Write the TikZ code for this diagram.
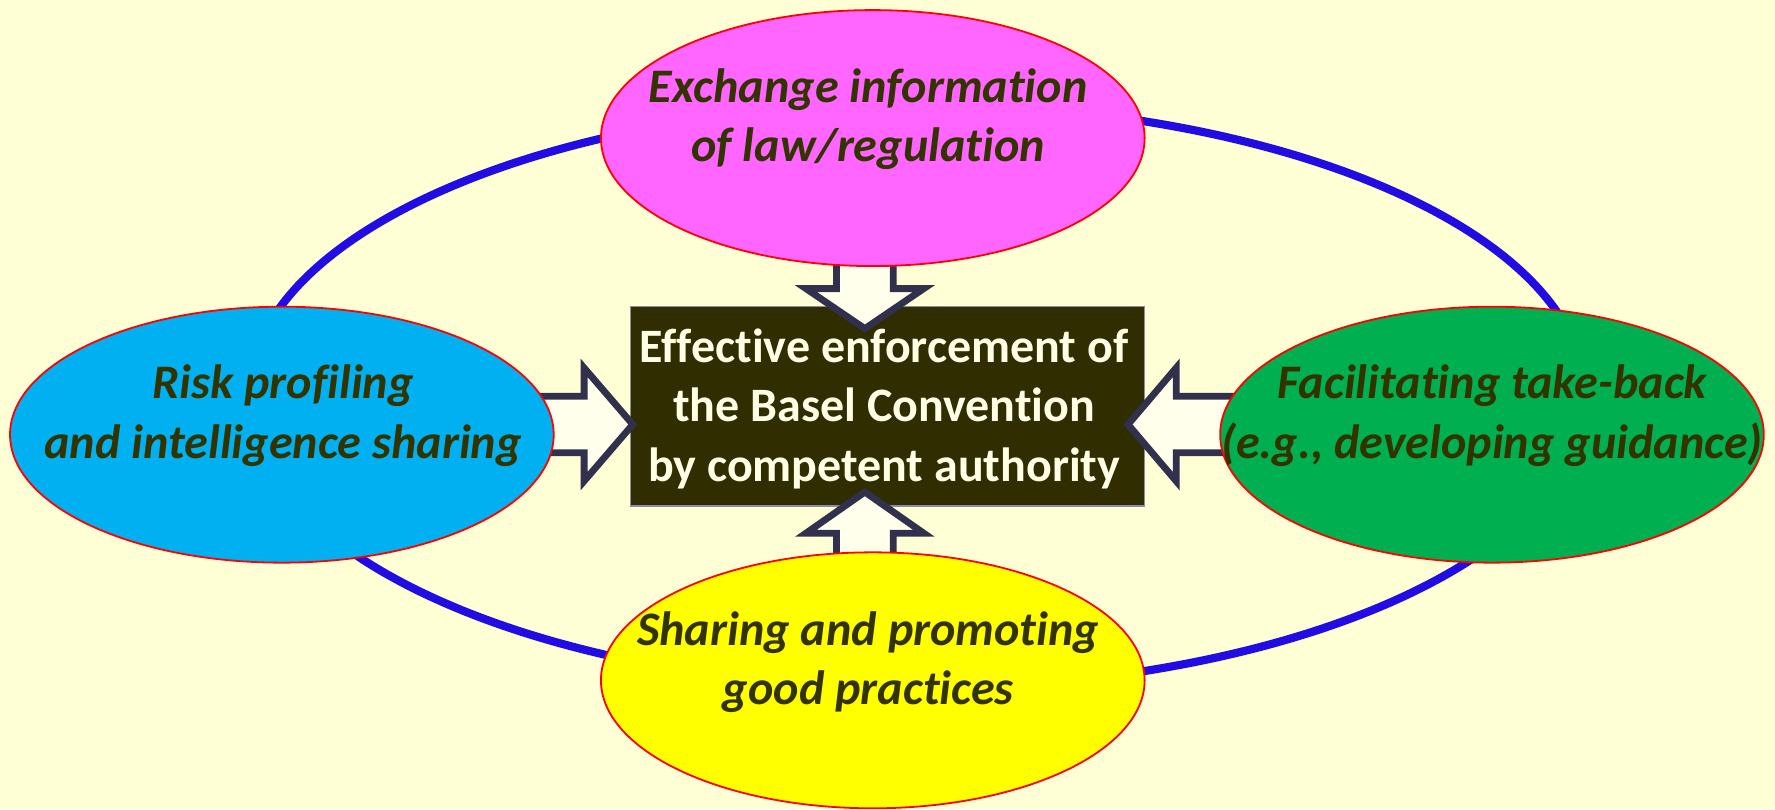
\documentclass[tikz,border=0pt]{standalone}
\usepackage{fontspec}
\setmainfont{Carlito}[Ligatures=NoCommon]
\usetikzlibrary{shapes.geometric}
\definecolor{bg}{HTML}{FFFFD5}
\definecolor{ringblue}{HTML}{210CE3}
\definecolor{arrline}{HTML}{31314D}
\definecolor{arrfill}{HTML}{FFFFEB}
\definecolor{corefill}{HTML}{302D00}
\definecolor{coretxt}{HTML}{FFFFE6}
\definecolor{coreline}{HTML}{8C8CA8}
\definecolor{etext}{HTML}{333300}
\definecolor{cmag}{HTML}{FF66FF}
\definecolor{ccyan}{HTML}{00B0F0}
\definecolor{cgreen}{HTML}{00AF50}
\definecolor{cyellow}{HTML}{FFFF00}
\tikzset{
  ringstyle/.style={ellipse, draw=ringblue, line width=0.072cm, minimum width=11.8cm, minimum height=5.16cm, inner sep=0pt},
  ell/.style={ellipse, draw=red, line width=0.45pt, minimum width=4.8cm, minimum height=2.26cm, inner sep=0pt},
  elltext/.style={font=\fontsize{12.1pt}{14.94pt}\selectfont\bfseries\itshape, text=etext, align=center, inner sep=0pt},
  corebox/.style={rectangle, draw=coreline, fill=corefill, line width=0.4pt, minimum width=4.54cm, minimum height=1.76cm, inner sep=0pt},
  coretext/.style={font=\fontsize{12.05pt}{14.94pt}\selectfont\bfseries, text=coretxt, align=center, inner sep=0pt},
  blockarrow/.style={draw=arrline, fill=arrfill, line width=0.06cm, line join=miter}
}
\begin{document}
\begin{tikzpicture}[x=0.01cm,y=-0.01cm]
\fill[bg] (0,0) rectangle (1568,714.7);
\useasboundingbox (0,0) rectangle (1568,714.7);
% ring
\node[ringstyle] (ring) at (810,350) {};
% central box
\node[corebox] (core) at (784,359) {};
% block arrows
\draw[blockarrow] (739,200) -- (739,255) -- (712,255) -- (764,290.3) -- (816,255) -- (789,255) -- (789,200) -- cycle;
\draw[blockarrow] (739,530) -- (739,471) -- (712,471) -- (764,434.7) -- (816,471) -- (789,471) -- (789,530) -- cycle;
\draw[blockarrow] (440,350) -- (516,350) -- (516,325) -- (559,375) -- (516,425) -- (516,400) -- (440,400) -- cycle;
\draw[blockarrow] (1130,350) -- (1039,350) -- (1039,325) -- (996.5,375) -- (1039,425) -- (1039,400) -- (1130,400) -- cycle;
% ellipses
\node[ell, fill=cmag] (top) at (771,122) {};
\node[ell, fill=ccyan] (left) at (249,384) {};
\node[ell, fill=cgreen] (right) at (1318,384) {};
\node[ell, fill=cyellow] (bottom) at (771,601) {};
% texts
\node[elltext] (toptext) at (767,106) {\strut Exchange information\\\strut of law/regulation};
\node[elltext] (lefttext) at (250,368) {\strut Risk profiling\\\strut and intelligence sharing};
\node[elltext] (righttext) at (1318,368) {\strut Facilitating take-back\\\strut (e.g., developing guidance)};
\node[elltext] (bottomtext) at (767,586) {\strut Sharing and promoting\\\strut good practices};
\node[coretext] (coretxt) at (781,362) {\strut Effective enforcement of\\\strut the Basel Convention\\\strut by competent authority};
\end{tikzpicture}
\end{document}
